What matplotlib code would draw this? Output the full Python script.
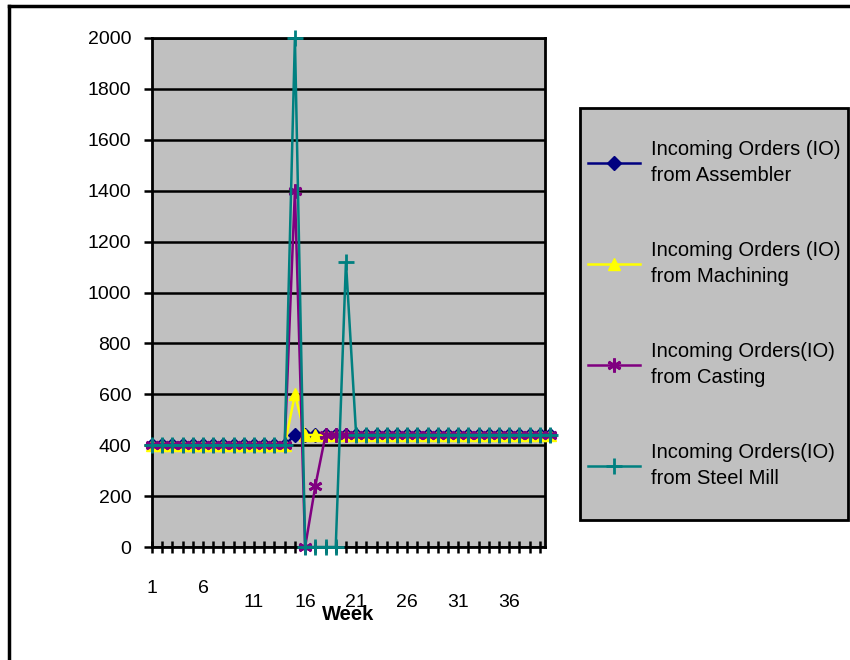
import matplotlib
matplotlib.use("Agg")
import matplotlib.pyplot as plt
from matplotlib.lines import Line2D
from matplotlib.patches import Rectangle
from matplotlib.transforms import ScaledTranslation

plt.rcParams['font.family'] = ['Liberation Sans', 'DejaVu Sans']

weeks = list(range(1, 41))
assembler = [400]*14 + [440]*26
machining = [400]*14 + [600] + [440]*25
casting = [400]*14 + [1400, 0, 240] + [440]*23
steel_mill = [400]*14 + [2000, 0, 0, 0, 0, 1120] + [440]*20

labels = ["Incoming Orders (IO)\nfrom Assembler",
          "Incoming Orders (IO)\nfrom Machining",
          "Incoming Orders(IO)\nfrom Casting",
          "Incoming Orders(IO)\nfrom Steel Mill"]
colors = ["#000080", "#FFFF00", "#800080", "#008080"]
markers = ["D", "^", (6, 2, 0), "+"]
msizes = [7, 8, 10, 11]

xtick_labels = ["1", "6", "11", "16", "21", "26", "31", "36"]
yticks = list(range(0, 2001, 200))

fig = plt.figure(figsize=(8.5, 6.6), dpi=100)
ax = fig.add_axes([152/850, 1-547/660, 393/850, 509/660])
ax.set_facecolor("#C0C0C0")

series = [assembler, machining, casting, steel_mill]
for s, lab, c, m, ms in zip(series, labels, colors, markers, msizes):
    ax.plot(weeks, s, color=c, lw=1.8, marker=m, markersize=ms,
            markeredgewidth=2 if m in ("+", (6, 2, 0)) else 1,
            markerfacecolor=c, markeredgecolor=c, label=lab, clip_on=False, zorder=3)

ax.set_xlim(1, 39.5)
ax.set_ylim(0, 2000)
ax.set_yticks(yticks)
ax.set_yticklabels([str(v) for v in yticks], fontsize=14)
ax.grid(axis='y', color='black', lw=1.8, zorder=1)
ax.set_axisbelow(True)

ticks_all = list(range(1, 40))
ax.set_xticks(ticks_all)
ax.set_xticklabels([str(t) if str(t) in xtick_labels else "" for t in ticks_all], fontsize=14)
ax.tick_params(axis='x', direction='inout', length=9, width=1.8, pad=19)
ax.tick_params(axis='y', direction='out', length=6, width=1.8, pad=9)

for t, lbl in zip(ticks_all, ax.get_xticklabels()):
    if t >= 11:
        lbl.set_transform(lbl.get_transform() + ScaledTranslation(0, -0.14, fig.dpi_scale_trans))

for sp in ax.spines.values():
    sp.set_linewidth(2)
    sp.set_color('black')

ax.set_xlabel("Week", fontsize=14.5, fontweight='bold', labelpad=-4)

fig.add_artist(Rectangle((580/850, 1-520/660), 268/850, 412/660, transform=fig.transFigure,
                         facecolor="#C0C0C0", edgecolor="black", lw=2, zorder=1))

leg = fig.legend(loc='upper left', bbox_to_anchor=(588/850, 1-140/660),
                 fontsize=14.5, frameon=False, handlelength=2.6,
                 labelspacing=2.8, borderpad=0, handletextpad=0.55, borderaxespad=0)
leg.set_zorder(2)
for t in leg.get_texts():
    t.set_linespacing(1.45)

fig.add_artist(Line2D([9/850, 9/850], [0, 1-6/660], color='black', lw=2.5, transform=fig.transFigure))
fig.add_artist(Line2D([9/850, 1], [1-6/660, 1-6/660], color='black', lw=2.5, transform=fig.transFigure))

fig.savefig("out.png", dpi=100)
